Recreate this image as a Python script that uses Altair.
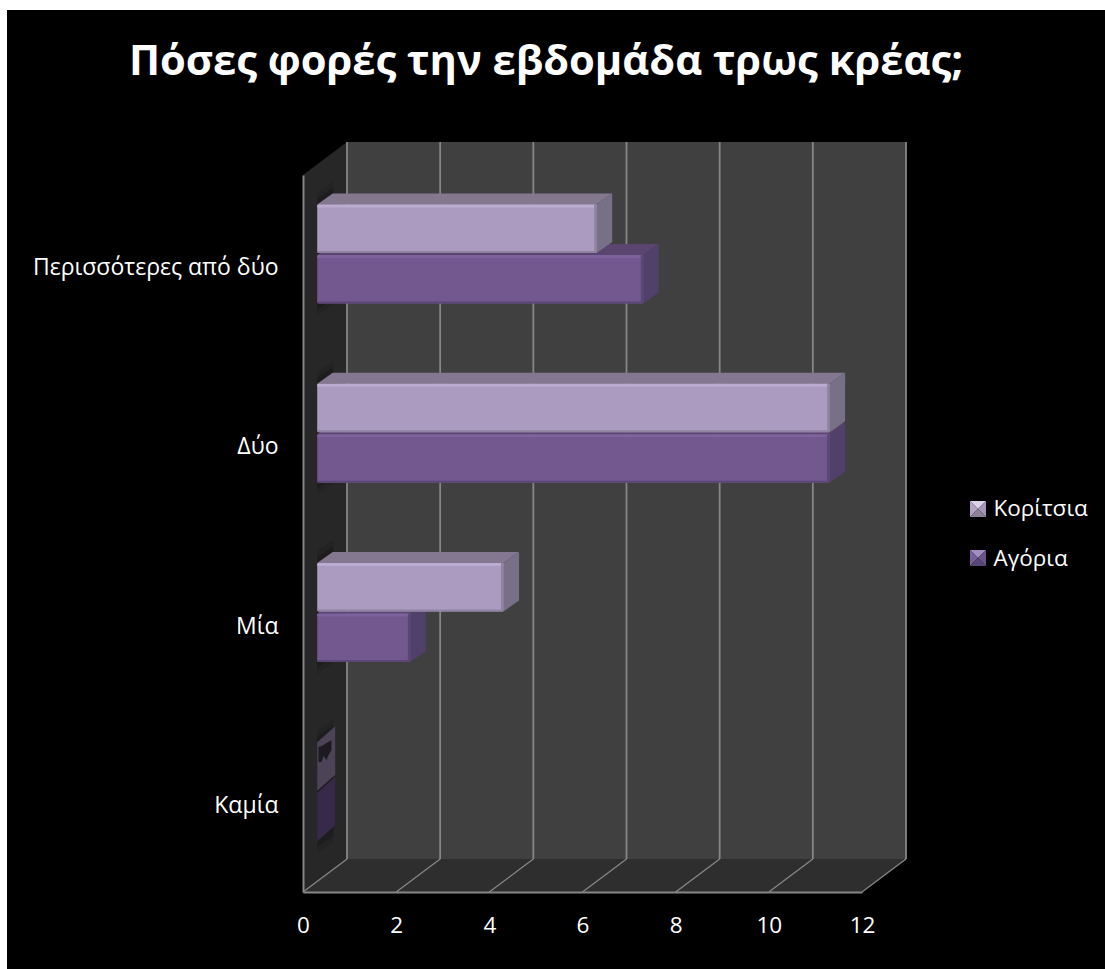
import altair as alt
import pandas as pd

# Chart values, bottom row first
categories = ["Καμία", "Μία", "Δύο", "Περισσότερες από δύο"]
girls = [0, 4, 11, 6]
boys = [0, 2, 11, 7]
series_names = ["Κορίτσια", "Αγόρια"]
title_text = "Πόσες φορές την εβδομάδα τρως κρέας;"
x_ticks = [0, 2, 4, 6, 8, 10, 12]

FONT = "Open Sans"
W, H = 559, 717
UX, UY = W / 12, H / 4          # pixels per data unit
WALL_DX, WALL_DY = 44 / UX, 33 / UY   # depth of the box
BAR_X0 = 14.2 / UX              # gap between the wall and the front of a bar
BAR_DX, BAR_DY = 15.5 / UX, 11 / UY   # depth of a bar
ZERO_DX, ZERO_DY = 18 / UX, 16 / UY   # a zero-length bar shows a steeper side
LIFT = 10.6 / UY                # bars sit behind the front plane
GAP = 1 / UY
BAR_H = 48.5 / UY
grid_color = "#868686"

# One axis definition shared by every layer, raised above the black panel
label_expr = "[" + ",".join(f"'{c}'" for c in categories) + "][floor(datum.value)]"
x_axis = alt.Axis(
    values=x_ticks, grid=False, ticks=False, domainColor=grid_color, domainWidth=2,
    labelColor="white", labelFont=FONT, labelFontSize=22.5, labelPadding=22, title=None,
    labelFlush=False, labelOverlap=False, zindex=1,
)
y_axis = alt.Axis(
    values=[0.5, 1.5, 2.5, 3.5], grid=False, ticks=False, domainColor=grid_color, domainWidth=2,
    labelColor="white", labelFont=FONT, labelFontSize=23, labelPadding=25, title=None,
    labelExpr=label_expr, labelOverlap=False, labelBound=False, labelLimit=300, labelOffset=3, zindex=1,
)
x_scale = alt.Scale(domain=[0, 12], nice=False)
y_scale = alt.Scale(domain=[0, 4], nice=False)
x_enc = alt.X("x:Q", scale=x_scale, axis=x_axis)
y_enc = alt.Y("y:Q", scale=y_scale, axis=y_axis)


def polygon(rows, color, opacity=1.0):
    """Filled shapes given as (id, x, y, y2) rows, swept along x."""
    df = pd.DataFrame(rows, columns=["id", "x", "y", "y2"])
    return alt.Chart(df).mark_area(color=color, opacity=opacity, orient="vertical").encode(
        x=x_enc, y=y_enc, y2="y2:Q", detail="id:N"
    )


def strip(rows, color, radius=0):
    df = pd.DataFrame(rows, columns=["x", "x2", "y", "y2"])
    return alt.Chart(df).mark_rect(color=color, cornerRadius=radius).encode(
        x=x_enc, x2="x2:Q", y=y_enc, y2="y2:Q"
    )


def bar_box(i, which):
    mid = i + 0.5 + LIFT
    if which == 0:
        return mid + GAP + BAR_H, mid + GAP
    return mid - GAP, mid - GAP - BAR_H


# Box walls
left_wall = polygon(
    [("w", 0, 4, 0), ("w", WALL_DX, 4 + WALL_DY, WALL_DY)], "#272727"
)
back_wall = polygon(
    [("b", WALL_DX, 4 + WALL_DY, WALL_DY), ("b", 12 + WALL_DX, 4 + WALL_DY, WALL_DY)], "#404040"
)
floor = polygon(
    [("f", 0, 0, 0), ("f", WALL_DX, WALL_DY, 0), ("f", 12, WALL_DY, 0), ("f", 12 + WALL_DX, WALL_DY, WALL_DY)],
    "#2E2E2E",
)

# Grid on the back wall and across the floor
grid_df = pd.DataFrame({"x": [t + WALL_DX for t in x_ticks], "y": [WALL_DY] * 7, "y2": [4 + WALL_DY] * 7})
back_grid = alt.Chart(grid_df).mark_rule(color=grid_color, strokeWidth=1.8).encode(
    x=x_enc, y=y_enc, y2="y2:Q"
)
floor_rows = []
for t in x_ticks:
    floor_rows += [{"t": t, "x": t, "y": 0}, {"t": t, "x": t + WALL_DX, "y": WALL_DY}]
floor_grid = alt.Chart(pd.DataFrame(floor_rows)).mark_line(color=grid_color, strokeWidth=1.3).encode(
    x=x_enc, y=y_enc, detail="t:N"
)

# Soft shadow the bars cast on the side wall
shadow_outer, shadow_inner = [], []
for i in range(4):
    top = bar_box(i, 0)[0]
    bot = bar_box(i, 1)[1]
    for rows, pad in ((shadow_outer, 12), (shadow_inner, 6)):
        rows += [
            (i, BAR_X0, top + pad / UY, bot - pad / UY),
            (i, BAR_X0 + ZERO_DX - 2 / UX, top + BAR_DY + pad / UY, bot + BAR_DY - pad / UY),
        ]

# Bar colours
palette = {
    0: {"front": "#AB9BC0", "hi": "#BBABD0", "dark": "#8F83A1", "top": "#83788F", "side": "#777086", "zero": "#4C4357"},
    1: {"front": "#72588F", "hi": "#7D629B", "dark": "#5C4677", "top": "#5A4470", "side": "#50406A", "zero": "#36294A"},
}
layers = [left_wall, back_wall, floor, back_grid, floor_grid,
          polygon(shadow_outer, "#151515", 0.2), polygon(shadow_inner, "#101010", 0.3)]

front_rows, face_layers = [], []
for which, values in enumerate((girls, boys)):
    tops, sides, zeros, hi, dark_r, dark_b = [], [], [], [], [], []
    for i, v in enumerate(values):
        top, bot = bar_box(i, which)
        x1 = BAR_X0 + v
        if v == 0:
            zeros += [(i, BAR_X0, top, bot), (i, BAR_X0 + ZERO_DX, top + ZERO_DY, bot + ZERO_DY)]
            continue
        tops += [
            (i, BAR_X0, top, top),
            (i, BAR_X0 + BAR_DX, top + BAR_DY, top),
            (i, x1, top + BAR_DY, top),
            (i, x1 + BAR_DX, top + BAR_DY, top + BAR_DY),
        ]
        sides += [(i, x1, top, bot), (i, x1 + BAR_DX, top + BAR_DY, bot + BAR_DY)]
        hi.append((BAR_X0, x1, top, top - 3 / UY))
        dark_r.append((x1 - 2.5 / UX, x1, top, bot))
        dark_b.append((BAR_X0, x1, bot + 2 / UY, bot))
        front_rows.append({"x": BAR_X0, "x2": x1, "y": top, "y2": bot, "group": series_names[which]})
    face_layers.append((which, tops, sides, zeros, hi, dark_r, dark_b))

# Boys go first so the girls' row overlaps them
for which, tops, sides, zeros, hi, dark_r, dark_b in reversed(face_layers):
    colors = palette[which]
    layers += [polygon(tops, colors["top"]), polygon(sides, colors["side"]), polygon(zeros, colors["zero"])]

# Dark nick on the zero-length girls' side
NICK_X = [319, 322, 324, 327, 329, 332]
NICK_TOP = [747, 746, 745, 743, 742, 740]
NICK_BOTTOM = [762, 762, 756, 760, 755, 750]
layers.append(polygon(
    [("n", (px - 303.5) / UX, (892 - t) / UY, (892 - b) / UY) for px, t, b in zip(NICK_X, NICK_TOP, NICK_BOTTOM)],
    "#1E1A22",
))

# Front faces carry the legend; its keys are drawn as pyramids below
fronts = alt.Chart(pd.DataFrame(front_rows)).mark_rect(cornerRadius=2).encode(
    x=x_enc, x2="x2:Q", y=y_enc, y2="y2:Q",
    color=alt.Color(
        "group:N",
        scale=alt.Scale(domain=series_names, range=[palette[0]["front"], palette[1]["front"]]),
        legend=alt.Legend(
            orient="none", legendX=662, legendY=323, title=None, symbolType="square",
            symbolSize=256, symbolStrokeWidth=0, symbolOpacity=0, labelFont=FONT, labelFontSize=22.5,
            labelColor="white", rowPadding=27, labelOffset=6,
        ),
    ),
)
layers.append(fronts)
for which, tops, sides, zeros, hi, dark_r, dark_b in face_layers:
    colors = palette[which]
    layers += [strip(hi, colors["hi"], 1), strip(dark_r, colors["dark"], 1), strip(dark_b, colors["dark"], 1)]

tri = {
    "top": "M-1,-1L1,-1L0,0Z",
    "left": "M-1,-1L0,0L-1,1Z",
    "right": "M1,-1L0,0L1,1Z",
    "bottom": "M-1,1L1,1L0,0Z",
}
key_colors = {
    0: {"top": "#DCD3E8", "left": "#B3A5C6", "right": "#A496B8", "bottom": "#8E8299"},
    1: {"top": "#A28DC1", "left": "#75609A", "right": "#6A5488", "bottom": "#58457A"},
}
key_positions = {0: (675, 334), 1: (675, 383)}
anchor = pd.DataFrame({"a": [0]})
for which, (kx, ky) in key_positions.items():
    for side, path in tri.items():
        layers.append(
            alt.Chart(anchor).mark_point(
                shape=path, filled=True, size=256, color=key_colors[which][side], opacity=1, strokeWidth=0
            ).encode(x=alt.value(kx), y=alt.value(ky))
        )

# Title set as a text mark so the black panel does not push it off the page
layers.append(
    alt.Chart(pd.DataFrame({"t": [title_text]})).mark_text(
        font=FONT, fontSize=41.7, fontWeight="bold", color="white", align="center", baseline="middle"
    ).encode(text="t:N", x=alt.value(243), y=alt.value(-113))
)

# Black panel behind the plot, leaving a thin white edge at the top and left
panel = alt.Chart(anchor).mark_rect(color="black").encode(
    x=alt.value(-296), x2=alt.value(802), y=alt.value(-165), y2=alt.value(794)
)

chart = (
    alt.layer(panel, *layers)
    .properties(
        width=W, height=H,
        padding={"left": 303, "top": 175, "right": 243, "bottom": 77},
        autosize=alt.AutoSizeParams(type="none"),
        background="white",
    )
    .configure_view(stroke=None)
)

chart.save("out.html", embed_options={"renderer": "svg", "actions": False})
